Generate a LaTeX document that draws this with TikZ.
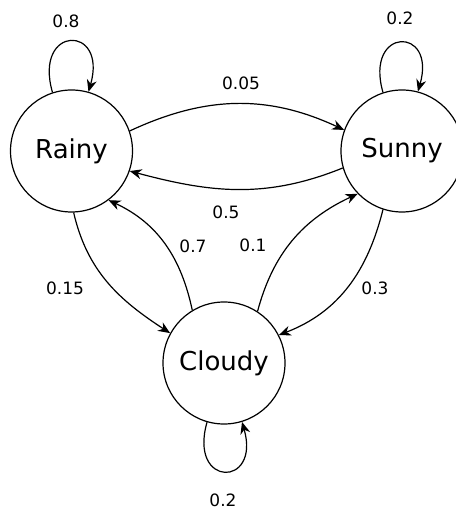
\documentclass[tikz,border=0pt]{standalone}
\usepackage{fontspec}
\setmainfont{DejaVu Sans}
\usetikzlibrary{arrows.meta}

\tikzset{
  state/.style={circle, draw, line width=1.2pt, minimum size=122pt, inner sep=0pt,
    font=\fontsize{26}{30}\selectfont},
  prob/.style={inner sep=0pt, font=\fontsize{17}{20}\selectfont},
  trans/.style={line width=1.2pt, -{Stealth[length=12pt,width=10pt]}},
}

\begin{document}
\begin{tikzpicture}[x=1pt,y=1pt]
  \useasboundingbox (0,0) rectangle (455,513);

  \node[state] (rainy) at (71.5,362) {Rainy};
  \node[state] (sunny) at (402,362) {Sunny};
  \node[state] (cloudy) at (224,150) {Cloudy};

  % self loops
  \draw[trans] (rainy.108) to[out=106,in=74,looseness=5] (rainy.74);
  \draw[trans] (sunny.108) to[out=106,in=74,looseness=5] (sunny.75);
  \draw[trans] (cloudy.254) to[out=-106,in=-74,looseness=5] (cloudy.287);

  \draw[trans] (rainy.19) to[out=25,in=155] (sunny.160);
  \draw[trans] (sunny.196) to[out=-158,in=-15] (rainy.-19);
  \draw[trans] (rainy.-88) to[out=-77,in=147] (cloudy.151);
  \draw[trans] (cloudy.121) to[out=102,in=-25] (rainy.-53);
  \draw[trans] (cloudy.57) to[out=75,in=-155] (sunny.224);
  \draw[trans] (sunny.-108) to[out=-104,in=21] (cloudy.27);

  % probabilities
  \node[prob] (prr) at (66,492) {0.8};
  \node[prob] (pss) at (400,495) {0.2};
  \node[prob] (pcc) at (223,13) {0.2};
  \node[prob] (prs) at (241,430) {0.05};
  \node[prob] (psr) at (226,301) {0.5};
  \node[prob] (pcr) at (193,267) {0.7};
  \node[prob] (pcs) at (253,268) {0.1};
  \node[prob] (prc) at (65,225) {0.15};
  \node[prob] (psc) at (375,225) {0.3};
\end{tikzpicture}
\end{document}
